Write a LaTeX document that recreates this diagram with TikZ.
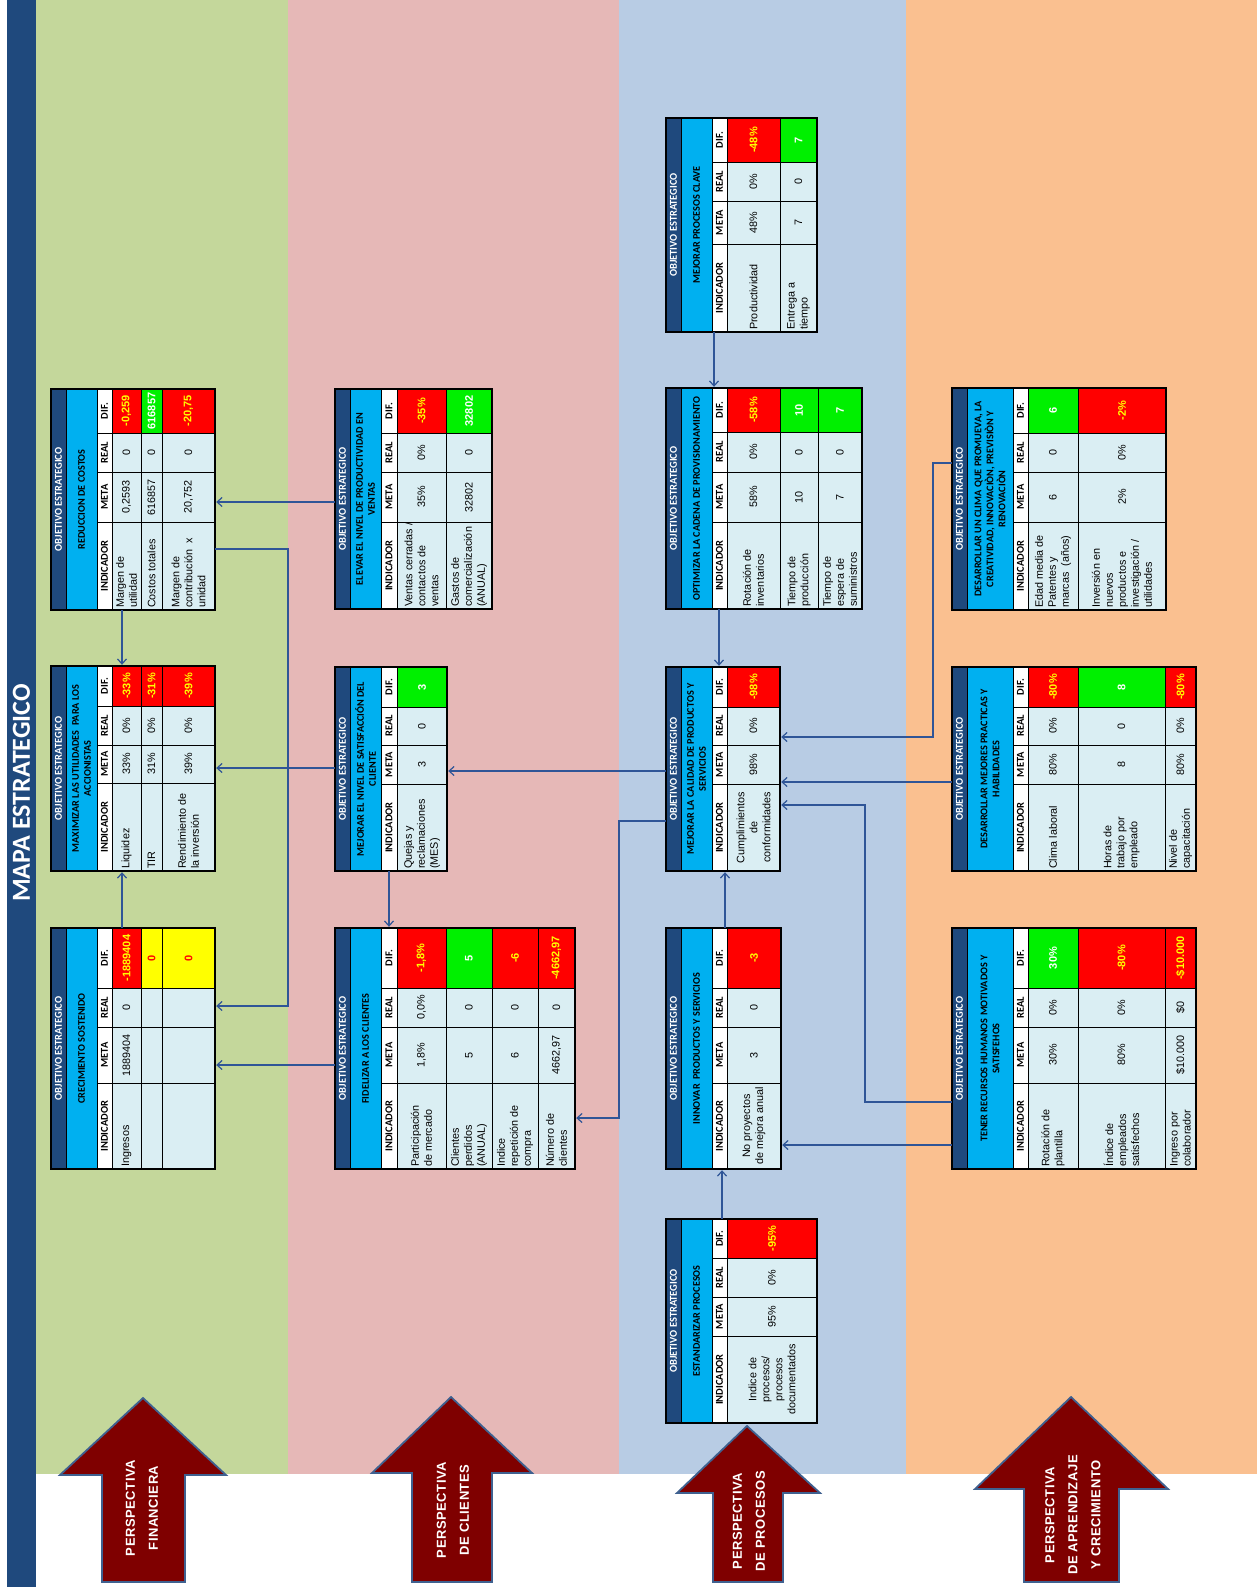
\documentclass[tikz,border=0pt]{standalone}
\usepackage{fontspec}
\setmainfont{Liberation Sans}
\newfontfamily\calib{Carlito}
\newfontfamily\arrf[LetterSpace=4]{Liberation Sans}
\usetikzlibrary{arrows.meta,fit}
\definecolor{hdrblue}{HTML}{1F497D}
\definecolor{ccyan}{HTML}{00B0F0}
\definecolor{cellbg}{HTML}{DAEEF3}
\definecolor{cred}{HTML}{FF0000}
\definecolor{cgreen}{HTML}{00F000}
\definecolor{cyellow}{HTML}{FFFF00}
\definecolor{bandgreen}{HTML}{C4D79B}
\definecolor{bandpink}{HTML}{E6B8B7}
\definecolor{bandblue}{HTML}{B8CCE4}
\definecolor{bandorange}{HTML}{FAC090}
\definecolor{arrred}{HTML}{7F0000}
\definecolor{arrborder}{HTML}{3F6190}
\definecolor{connblue}{HTML}{2F5597}
\newcommand\setcols[5]{\def\kya{#1}\def\kyb{#2}\def\kyc{#3}\def\kyd{#4}\def\kye{#5}}
\newcommand\setstrips[4]{\def\kxa{#1}\def\kxb{#2}\def\kxc{#3}\def\kxd{#4}}
\newcommand\thead[1]{%
  \draw[cellline,fill=hdrblue] (\kxa,\kya) rectangle (\kxb,\kye);
  \node[objtxt] at ({(\kxa+\kxb)/2},{(\kya+\kye)/2}) {OBJETIVO ESTRATEGICO};
  \draw[cellline,fill=ccyan] (\kxb,\kya) rectangle (\kxc,\kye);
  \node[nametxt] at ({(\kxb+\kxc)/2},{(\kya+\kye)/2}) {#1};
  \draw[cellline,fill=white] (\kxc,\kya) rectangle (\kxd,\kyb);
  \draw[cellline,fill=white] (\kxc,\kyb) rectangle (\kxd,\kyc);
  \draw[cellline,fill=white] (\kxc,\kyc) rectangle (\kxd,\kyd);
  \draw[cellline,fill=white] (\kxc,\kyd) rectangle (\kxd,\kye);
  \node[coltxt] at ({(\kxc+\kxd)/2},{(\kya+\kyb)/2}) {DIF.};
  \node[coltxt] at ({(\kxc+\kxd)/2},{(\kyb+\kyc)/2}) {REAL};
  \node[coltxt] at ({(\kxc+\kxd)/2},{(\kyc+\kyd)/2}) {META};
  \node[coltxt] at ({(\kxc+\kxd)/2},{(\kyd+\kye)/2}) {INDICADOR};
}
\newcommand\trow[8]{%
  \draw[cellline,fill=cellbg] (#1,\kyd) rectangle (#2,\kye);
  \draw[cellline,fill=cellbg] (#1,\kyc) rectangle (#2,\kyd);
  \draw[cellline,fill=cellbg] (#1,\kyb) rectangle (#2,\kyc);
  \draw[cellline,cell#8] (#1,\kya) rectangle (#2,\kyb);
  \if#3L
    \node[datatxt,align=left,anchor=west,inner sep=0.5pt] at ({(#1+#2)/2},{\kye-1.5}) {#4};
  \else
    \node[datatxt,align=center] at ({(#1+#2)/2},{(\kyd+\kye)/2}) {#4};
  \fi
  \node[datatxt] at ({(#1+#2)/2},{(\kyc+\kyd)/2}) {#5};
  \node[datatxt] at ({(#1+#2)/2},{(\kyb+\kyc)/2}) {#6};
  \node[diftxt,txt#8] at ({(#1+#2)/2},{(\kya+\kyb)/2}) {#7};
}
\newcommand\tframe[2]{%
  \draw[line width=1.5pt] (\kxa,\kya) rectangle (#2,\kye);
  \node[inner sep=0pt,fit={(\kxa,\kya) (#2,\kye)}] (#1) {};
}
\begin{document}
\begin{tikzpicture}[x=1pt,y=-1pt,
  cellline/.style={draw=black,line width=0.7pt},
  objtxt/.style={rotate=90,text=white,font=\calib\bfseries\fontsize{10.5}{11}\selectfont,inner sep=0pt},
  nametxt/.style={rotate=90,align=center,font=\calib\bfseries\fontsize{10.2}{12}\selectfont,inner sep=0pt},
  coltxt/.style={rotate=90,font=\calib\bfseries\fontsize{10.5}{11}\selectfont,inner sep=0pt},
  datatxt/.style={rotate=90,font=\fontsize{10.8}{13}\selectfont,inner sep=1pt},
  diftxt/.style={rotate=90,font=\bfseries\fontsize{11}{13}\selectfont,inner sep=0pt},
  cellR/.style={fill=cred}, cellG/.style={fill=cgreen}, cellY/.style={fill=cyellow},
  txtR/.style={text=cyellow}, txtG/.style={text=white}, txtY/.style={text=cred},
  conn/.style={draw=connblue,line width=1.2pt,-{Straight Barb[length=5pt,width=9pt]},shorten >=1pt},
  bigarrow/.style={fill=arrred,draw=arrborder,line width=1.8pt,line join=miter},
  arrtxt/.style={rotate=90,text=white,align=center,font=\arrf\bfseries\fontsize{13}{23}\selectfont},
  titletxt/.style={rotate=90,text=white,font=\calib\bfseries\fontsize{26}{28}\selectfont}]
\useasboundingbox (0,0) rectangle (1257,1587);
\fill[white] (0,0) rectangle (1257,1587);
% bands
\fill[bandgreen] (36,0) rectangle (288,1474);
\fill[bandpink] (288,0) rectangle (619,1474);
\fill[bandblue] (619,0) rectangle (906,1474);
\fill[bandorange] (906,0) rectangle (1257,1474);
\fill[hdrblue] (7,0) rectangle (36,1587);
\node[titletxt] (title) at (21.5,793) {MAPA ESTRATEGICO};
% perspective arrows
\draw[bigarrow] (143,1398) -- (226,1475) -- (185,1475) -- (185,1582) -- (102,1582) -- (102,1475) -- (60,1475) -- cycle;
\node[arrtxt] (pfin) at (142,1508) {PERSPECTIVA\\FINANCIERA};
\draw[bigarrow] (451,1397) -- (532,1473) -- (492,1473) -- (492,1582) -- (412,1582) -- (412,1473) -- (372,1473) -- cycle;
\node[arrtxt] (pcli) at (453,1510) {PERSPECTIVA\\DE CLIENTES};
\draw[bigarrow] (747,1426) -- (820,1493) -- (783,1493) -- (783,1582) -- (713,1582) -- (713,1493) -- (677,1493) -- cycle;
\node[arrtxt] (ppro) at (749,1521) {PERSPECTIVA\\DE PROCESOS};
\draw[bigarrow] (1071,1397) -- (1168,1489) -- (1119,1489) -- (1119,1582) -- (1024,1582) -- (1024,1489) -- (975,1489) -- cycle;
\node[arrtxt] (papr) at (1073,1515) {PERSPECTIVA\\DE APRENDIZAJE\\Y CRECIMIENTO};
% ---------- FINANCIERA ----------
\setstrips{51}{66}{97}{112}
\setcols{928}{988}{1027}{1083}{1169}
\thead{CRECIMIENTO SOSTENIDO}
\trow{112}{141}{L}{Ingresos}{1889404}{0}{-1889404}{R}
\trow{141}{162}{L}{}{}{}{0}{Y}
\trow{162}{215}{L}{}{}{}{0}{Y}
\tframe{crec}{215}
\setcols{666}{706}{745}{783}{871}
\thead{MAXIMIZAR LAS UTILIDADES\ \ PARA LOS\\ACCIONISTAS}
\trow{112}{141}{L}{Liquidez}{33\%}{0\%}{-33\%}{R}
\trow{141}{162}{L}{TIR}{31\%}{0\%}{-31\%}{R}
\trow{162}{215}{L}{Rendimiento de\\la inversión}{39\%}{0\%}{-39\%}{R}
\tframe{maxi}{215}
\setcols{389}{433}{472}{522}{610}
\thead{REDUCCION DE COSTOS}
\trow{112}{141}{L}{Margen de\\utilidad}{0,2593}{0}{-0,259}{R}
\trow{141}{162}{L}{Costos totales}{616857}{0}{616857}{G}
\trow{162}{215}{L}{Margen de\\contribución\ \ x\\unidad}{20,752}{0}{-20,75}{R}
\tframe{redu}{215}
% ---------- CLIENTES ----------
\setstrips{335}{350}{381}{397}
\setcols{928}{988}{1027}{1083}{1169}
\thead{FIDELIZAR A LOS CLIENTES}
\trow{397}{446}{L}{Participación\\de mercado}{1,8\%}{0,0\%}{-1,8\%}{R}
\trow{446}{492}{L}{Clientes\\perdidos\\(ANUAL)}{5}{0}{5}{G}
\trow{492}{538}{L}{Indice\\repetición de\\compra}{6}{0}{-6}{R}
\trow{538}{575}{L}{Número de\\clientes}{4662,97}{0}{-4662,97}{R}
\tframe{fide}{575}
\setcols{667}{707}{745}{784}{871}
\thead{MEJORAR EL NIVEL DE SATISFACCIÓN DEL\\CLIENTE}
\trow{397}{447}{L}{Quejas y\\reclamaciones\\(MES)}{3}{0}{3}{G}
\tframe{satis}{447}
\setcols{389}{433}{472}{522}{609}
\thead{ELEVAR EL NIVEL DE PRODUCTIVIDAD EN\\VENTAS}
\trow{397}{446}{L}{Ventas cerradas /\\contactos de\\ventas}{35\%}{0\%}{-35\%}{R}
\trow{446}{492}{L}{Gastos de\\comercialización\\(ANUAL)}{32802}{0}{32802}{G}
\tframe{elev}{492}
% ---------- PROCESOS ----------
\setstrips{666}{681}{712}{727}
\setcols{928}{988}{1027}{1083}{1169}
\thead{INNOVAR\ \ PRODUCTOS Y SERVICIOS}
\trow{727}{781}{C}{No proyectos\\de mejora anual}{3}{0}{-3}{R}
\tframe{inno}{781}
\setcols{1219}{1258}{1297}{1336}{1423}
\thead{ESTANDARIZAR PROCESOS}
\trow{727}{817}{C}{Indice de\\procesos/\\procesos\\documentados}{95\%}{0\%}{-95\%}{R}
\tframe{esta}{817}
\setcols{667}{707}{745}{784}{871}
\thead{MEJORAR LA CALIDAD DE PRODUCTOS Y\\SERVICIOS}
\trow{727}{780}{C}{Cumplimientos\\de\\conformidades}{98\%}{0\%}{-98\%}{R}
\tframe{cali}{780}
\setcols{388}{432}{472}{522}{609}
\thead{OPTIMIZAR LA CADENA DE PROVISIONAMIENTO}
\trow{727}{780}{L}{Rotación de\\inventarios}{58\%}{0\%}{-58\%}{R}
\trow{780}{818}{L}{Tiempo de\\producción}{10}{0}{10}{G}
\trow{818}{862}{L}{Tiempo de\\espera de\\suministros}{7}{0}{7}{G}
\tframe{opti}{862}
\setcols{118}{162}{201}{244}{332}
\thead{MEJORAR PROCESOS CLAVE}
\trow{727}{780}{L}{Productividad}{48\%}{0\%}{-48\%}{R}
\trow{780}{817}{L}{Entrega a\\tiempo}{7}{0}{7}{G}
\tframe{clave}{817}
% ---------- APRENDIZAJE ----------
\setstrips{952}{967}{1013}{1028}
\setcols{928}{988}{1027}{1083}{1169}
\thead{TENER RECURSOS HUMANOS MOTIVADOS Y\\SATISFEHOS}
\trow{1028}{1078}{L}{Rotación de\\plantilla}{30\%}{0\%}{30\%}{G}
\trow{1078}{1165}{L}{Índice de\\empleados\\satisfechos}{80\%}{0\%}{-80\%}{R}
\trow{1165}{1196}{L}{Ingreso por\\colaborador}{\$10.000}{\$0}{-\$10.000}{R}
\tframe{tener}{1196}
\setcols{667}{707}{745}{784}{871}
\thead{DESARROLLAR MEJORES PRACTICAS Y\\HABILIDADES}
\trow{1028}{1078}{L}{Clima laboral}{80\%}{0\%}{-80\%}{R}
\trow{1078}{1165}{L}{Horas de\\trabajo por\\empleado}{8}{0}{8}{G}
\trow{1165}{1196}{L}{Nivel de\\capacitación}{80\%}{0\%}{-80\%}{R}
\tframe{mejo}{1196}
\setcols{388}{433}{472}{522}{610}
\thead{DESARROLLAR UN CLIMA QUE PROMUEVA, LA\\CREATIVIDAD, INNOVACIÒN, PREVISIÒN Y\\RENOVACIÒN}
\trow{1028}{1078}{L}{Edad media de\\Patentes y\\marcas\ \ (años)}{6}{0}{6}{G}
\trow{1078}{1166}{L}{Inversión en\\nuevos\\productos e\\investigación /\\utilidades}{2\%}{0\%}{-2\%}{R}
\tframe{clima}{1166}
% ---------- connectors ----------
\draw[conn] (redu.south -| 122,0) -- (maxi.north -| 122,0);
\draw[conn] (crec.north -| 122,0) -- (maxi.south -| 122,0);
\draw[conn] (satis.west |- 0,768) -- (maxi.east |- 0,768);
\draw[conn] (elev.west |- 0,502) -- (redu.east |- 0,502);
\draw[conn] (redu.east |- 0,549) -- (288,549) -- (288,1006) -- (crec.east |- 0,1006);
\draw[conn] (fide.west |- 0,1065) -- (crec.east |- 0,1065);
\draw[conn] (satis.south -| 389,0) -- (fide.north -| 389,0);
\draw[conn] (cali.west |- 0,771) -- (satis.east |- 0,771);
\draw[conn] (cali.west |- 0,821) -- (619,821) -- (619,1118) -- (fide.east |- 0,1118);
\draw[conn] (inno.north -| 725,0) -- (cali.south -| 725,0);
\draw[conn] (esta.north -| 722,0) -- (inno.south -| 722,0);
\draw[conn] (opti.south -| 719,0) -- (cali.north -| 719,0);
\draw[conn] (clave.south -| 714,0) -- (opti.north -| 714,0);
\draw[conn] (tener.west |- 0,1145) -- (inno.east |- 0,1145);
\draw[conn] (tener.west |- 0,1102) -- (865,1102) -- (865,805) -- (cali.east |- 0,805);
\draw[conn] (mejo.west |- 0,782) -- (cali.east |- 0,782);
\draw[conn] (clima.west |- 0,463) -- (933,463) -- (933,737) -- (cali.east |- 0,737);
\end{tikzpicture}
\end{document}
